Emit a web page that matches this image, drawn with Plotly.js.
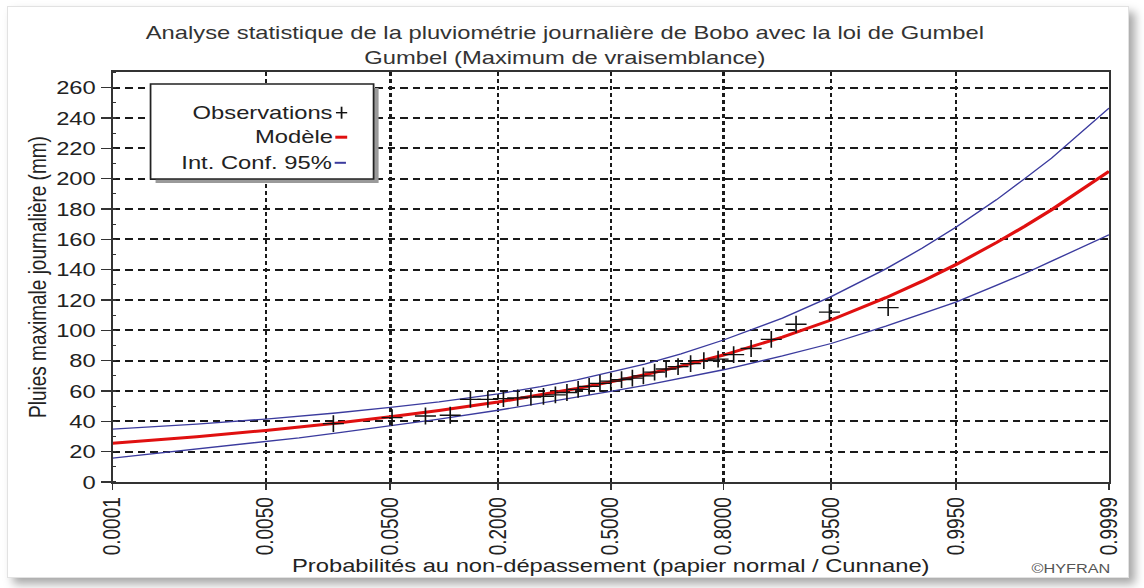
<!DOCTYPE html>
<html>
<head>
<meta charset="utf-8">
<script src="https://cdn.plot.ly/plotly-3.0.1.min.js"></script>
<style>
html,body{margin:0;padding:0;background:#fff;overflow:hidden;width:1144px;height:588px;}
#frame{position:absolute;left:7px;top:6px;width:1120px;height:570px;overflow:hidden;border:1px solid #e2e2e2;background:#fff;box-shadow:6px 6px 9px rgba(0,0,0,0.35);}
#chart{position:absolute;left:-8px;top:-7px;width:915px;height:588px;transform:scaleX(1.25027);transform-origin:0 0;}
</style>
</head>
<body>
<div id="frame"><div id="chart"></div></div>
<script>
// ---------- data ----------
var tickLabels = ['0.0001','0.0050','0.0500','0.2000','0.5000','0.8000','0.9500','0.9950','0.9999'];

var probModel = [0.0001,0.0005,0.001,0.005,0.01,0.02,0.05,0.1,0.2,0.3,0.4,0.5,0.6,0.7,0.8,0.9,0.95,0.98,0.99,0.995,0.998,0.999,0.9995,0.9999];
var modelValues = [25.5,28.4,29.9,34.0,36.2,38.8,43.0,47.1,52.7,57.3,61.6,66.0,70.7,76.4,83.7,95.5,106.8,121.5,132.4,143.3,157.8,168.6,179.5,204.8];
var upperValues = [34.8,37.0,38.2,41.5,43.3,45.5,49.2,52.8,58.1,62.8,67.4,72.3,77.7,84.5,93.6,108.0,122.2,140.5,154.2,168.0,186.0,200.0,213.5,246.5];
var lowerValues = [15.8,19.8,21.6,26.3,29.1,32.2,37.0,41.5,47.3,51.9,55.8,59.7,63.7,68.3,74.0,83.1,91.3,102.7,110.8,118.6,129.6,137.5,145.6,163.0];

var probObs = [0.0192,0.0513,0.0833,0.1154,0.1474,0.1795,0.2115,0.2436,0.2756,0.3077,0.3397,0.3718,0.4038,0.4359,0.4679,0.5000,0.5321,0.5641,0.5962,0.6282,0.6603,0.6923,0.7244,0.7564,0.7885,0.8205,0.8526,0.8846,0.9167,0.9487,0.9808];
var obsValues = [38.5,42.5,43.5,44.0,54.5,54.5,55.0,55.5,56.0,56.5,57.5,59.0,61.0,63.0,65.0,66.5,67.5,68.5,70.0,72.5,74.5,76.0,78.0,80.0,81.0,84.0,88.0,94.0,104.0,112.0,115.0];

var legendLabels = ['Observations','Modèle','Int. Conf. 95%'];

// ---------- normal probability paper transform ----------
function probit(p){
  var a=[-3.969683028665376e+01,2.209460984245205e+02,-2.759285104469687e+02,1.383577518672690e+02,-3.066479806614716e+01,2.506628277459239e+00];
  var b=[-5.447609879822406e+01,1.615858368580409e+02,-1.556989798598866e+02,6.680131188771972e+01,-1.328068155288572e+01];
  var c=[-7.784894002430293e-03,-3.223964580411365e-01,-2.400758277161838e+00,-2.549732539343734e+00,4.374664141464968e+00,2.938163982698783e+00];
  var d=[7.784695709041462e-03,3.224671290700398e-01,2.445134137142996e+00,3.754408661907416e+00];
  var pl=0.02425,q,r;
  if(p<pl){q=Math.sqrt(-2*Math.log(p));return (((((c[0]*q+c[1])*q+c[2])*q+c[3])*q+c[4])*q+c[5])/((((d[0]*q+d[1])*q+d[2])*q+d[3])*q+1);}
  if(p>1-pl){q=Math.sqrt(-2*Math.log(1-p));return -(((((c[0]*q+c[1])*q+c[2])*q+c[3])*q+c[4])*q+c[5])/((((d[0]*q+d[1])*q+d[2])*q+d[3])*q+1);}
  q=p-0.5;r=q*q;return (((((a[0]*r+a[1])*r+a[2])*r+a[3])*r+a[4])*r+a[5])*q/(((((b[0]*r+b[1])*r+b[2])*r+b[3])*r+b[4])*r+1);
}
var tickVals = tickLabels.map(function(s){return probit(parseFloat(s));});
var zModel = probModel.map(probit);
var zObs = probObs.map(probit);

// ---------- layout geometry (unstretched px) ----------
var W=915, H=588, ML=90.4, MR=28, MT=72, MB=106;
var PW=W-ML-MR, PH=H-MT-MB;
function px(x){return (x-ML)/PW;}
function py(y){return (H-MB-y)/PH;}

var FONT='Arial, "Liberation Sans", sans-serif';
var TXT='#222';
var BLUE='#3b3b9e', RED='#e01010';

var traces = [
  {x:zModel, y:lowerValues, type:'scatter', mode:'lines', line:{color:BLUE,width:1.3}, showlegend:false},
  {x:zModel, y:upperValues, type:'scatter', mode:'lines', line:{color:BLUE,width:1.3}, showlegend:false},
  {x:zModel, y:modelValues, type:'scatter', mode:'lines', line:{color:RED,width:3}, showlegend:false},
  {x:zObs, y:obsValues, type:'scatter', mode:'markers',
   marker:{symbol:'cross-thin', size:12, color:'#111', line:{color:'#111',width:1.3}}, showlegend:false}
];

// legend box geometry
var bx0=120.8, bx1=299.1, by0=84, by1=179;
var textRight=268, mk=273.5;
var rows=[112.7,136.7,162.3];

var shapes = [
  {type:'rect', xref:'paper', yref:'paper', x0:px(bx0+4), x1:px(bx1+4), y0:py(by1+4), y1:py(by0+4), fillcolor:'#9a9a9a', line:{width:0}, layer:'above'},
  {type:'rect', xref:'paper', yref:'paper', x0:px(bx0), x1:px(bx1), y0:py(by1), y1:py(by0), fillcolor:'#ffffff', line:{color:'#222',width:1.4}, layer:'above'},
  // + symbol
  {type:'line', xref:'paper', yref:'paper', x0:px(mk-4.5), x1:px(mk+4.5), y0:py(rows[0]), y1:py(rows[0]), line:{color:'#111',width:1.4}, layer:'above'},
  {type:'line', xref:'paper', yref:'paper', x0:px(mk), x1:px(mk), y0:py(rows[0]-6), y1:py(rows[0]+6), line:{color:'#111',width:1.4}, layer:'above'},
  // red dash
  {type:'line', xref:'paper', yref:'paper', x0:px(268.5), x1:px(278), y0:py(rows[1]+0.5), y1:py(rows[1]+0.5), line:{color:RED,width:3}, layer:'above'},
  // blue dash
  {type:'line', xref:'paper', yref:'paper', x0:px(268), x1:px(277), y0:py(rows[2]+0.5), y1:py(rows[2]+0.5), line:{color:BLUE,width:2}, layer:'above'}
];

var annotations = legendLabels.map(function(t,i){
  return {text:t, xref:'paper', yref:'paper', x:px(textRight), y:py(rows[i]), xanchor:'right', yanchor:'middle',
          showarrow:false, font:{family:FONT,size:19,color:TXT}};
});
annotations.push({text:'©HYFRAN', xref:'paper', yref:'paper', x:px(890), y:py(568), xanchor:'right', yanchor:'middle',
                  showarrow:false, font:{family:FONT,size:13,color:'#555'}});

var layout = {
  width:W, height:H,
  margin:{l:ML, r:MR, t:MT, b:MB, pad:0},
  paper_bgcolor:'#ffffff', plot_bgcolor:'#ffffff',
  font:{family:FONT, size:19, color:TXT},
  title:{text:'Analyse statistique de la pluviométrie journalière de Bobo avec la loi de Gumbel<br>Gumbel (Maximum de vraisemblance)',
         font:{family:FONT,size:19,color:'#333'}, xref:'paper', x:px(452), xanchor:'center',
         yref:'container', y:1-39.5/H, yanchor:'middle'},
  xaxis:{
    range:[probit(0.0001), probit(0.9999)], tickmode:'array', tickvals:tickVals, ticktext:tickLabels,
    tickangle:-90, ticks:'outside', ticklen:6, tickwidth:1.5, tickcolor:'#333',
    tickfont:{family:FONT,size:19,color:TXT},
    showgrid:true, gridcolor:'#1a1a1a', gridwidth:1.8, griddash:'4px,3px',
    showline:true, mirror:true, linecolor:'#333', linewidth:1.6, zeroline:false,
    title:{text:'Probabilités au non-dépassement (papier normal / Cunnane)', font:{family:FONT,size:19,color:TXT}, standoff:1}
  },
  yaxis:{
    range:[0,270.3], tickmode:'linear', tick0:0, dtick:20,
    ticks:'outside', ticklen:8, tickwidth:1.5, tickcolor:'#333',
    tickfont:{family:FONT,size:19,color:TXT},
    minor:{dtick:10, ticks:'inside', ticklen:3, tickcolor:'#333', tickwidth:1.2, showgrid:false},
    showgrid:true, gridcolor:'#1a1a1a', gridwidth:1.8, griddash:'6px,4px',
    showline:true, mirror:true, linecolor:'#333', linewidth:1.6, zeroline:false,
    title:{text:'Pluies maximale journalière (mm)', font:{family:FONT,size:19,color:TXT}, standoff:2}
  },
  shapes:shapes,
  annotations:annotations,
  showlegend:false
};

Plotly.newPlot('chart', traces, layout, {staticPlot:true, displayModeBar:false});
</script>
</body>
</html>
